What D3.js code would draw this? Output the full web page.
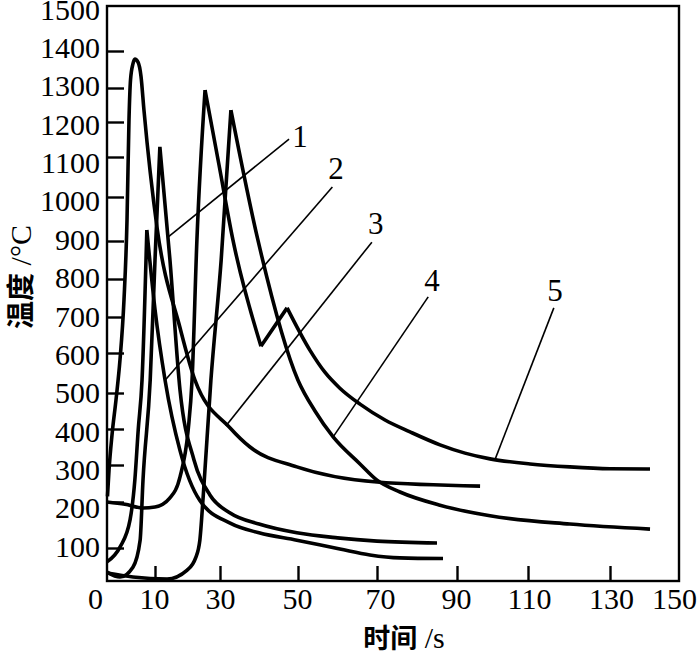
<!DOCTYPE html>
<html><head><meta charset="utf-8">
<script src="https://cdn.jsdelivr.net/npm/d3@7"></script>
<style>body{margin:0;background:#fff}svg{display:block}</style>
</head><body><svg id="chart" width="697" height="656"></svg>
<script>
// ---------- data ----------
const timeTicks = [0, 10, 30, 50, 70, 90, 110, 130, 150];
const tempTicks = [100, 200, 300, 400, 500, 600, 700, 800, 900, 1000, 1100, 1200, 1300, 1400];
const tempLabels = [100, 200, 300, 400, 500, 600, 700, 800, 900, 1000, 1100, 1200, 1300, 1400, 1500];
const curveNames = ["1", "2", "3", "4", "5"];

// [time s, temperature °C]
const curve1 = [[0,27],[2.7,12],[5.4,42],[6.9,117],[7.5,259],[9,532],[10,850],[11.5,1129],[14.6,850],[17.7,507],[22,314],[26.9,219],[32.6,176],[40,152],[49.7,133],[60,122],[70,115],[85,111]];
const curve2 = [[0,58],[2.7,102],[4.8,161],[5.8,259],[6.5,397],[7.3,533],[8.3,925],[10,720],[13.1,532],[17.7,340],[23.8,204],[32.6,154],[40,133],[49.7,117],[60.6,97],[68.2,79],[75.75,70],[86.5,68]];
const curve3 = [[0.1,215],[0.42,286],[1.04,383],[1.875,481],[2.7,582],[3.54,745],[4.17,948],[4.58,1206],[4.9,1322],[5.4,1365],[5.8,1378],[6.46,1370],[7.08,1332],[7.7,1235],[10.6,932],[17.7,670],[22.3,532],[32.6,403],[37.7,350],[49.7,295],[70,254],[96.5,243]];
const curve4 = [[0,24],[5.4,12],[13.7,6],[19.9,33],[22.5,70],[23.8,117],[24.8,211],[27.2,532],[30.3,850],[32.8,1235],[39.7,903],[50,532],[54.3,450],[58.9,378],[65.7,303],[70,259],[75.75,227],[85.75,193],[99.3,170],[120.2,152],[141.6,141]];
const curve5 = [[0,200],[3.75,195],[7.5,187],[10,189],[14.6,211],[17.7,268],[20.2,397],[21.4,532],[22.9,903],[25.4,1294],[29.7,1080],[33.3,903],[40.5,619],[47.2,724],[53.0,608],[56.8,552],[60.6,512],[65.7,469],[72,425],[78.25,392],[85.75,356],[92.25,333],[99.3,317],[110.5,303],[120.2,295],[130,290],[141.6,289]];
// which curves have pointed (not rounded) peaks
const sharpPeaks = [true, true, false, true, true];

// leader lines: point on curve, outer end, label position (data units)
const leaderPoints  = [[14,909],[13.1,532],[31.5,408],[58.9,378],[100.7,315]];
const leaderEnds    = [[47.7,1151],[58.7,1025],[68.7,897],[82.8,753],[116.3,724]];
const labelPoints   = [[50.5,1160],[59.6,1072],[69.7,939],[83.75,795],[116.6,771]];

// ---------- layout ----------
const svg = d3.select("#chart");
const xDomain = [0, 10, 30, 50, 70, 90, 110, 130, 150];
const x = d3.scaleLinear().domain(xDomain).range([107, 155, 220, 298, 377, 457, 528, 610, 679]);
const yDomain = [0,100,200,300,400,500,600,700,800,900,1000,1100,1200,1300,1400,1500];
const y = d3.scaleLinear().domain(yDomain).range([581,548,502,465,429,393,353,317,279,241,197,157,122,88,51,6]);
// label placement scales (labels are evenly spaced in the original drawing)
const xLab = d3.scaleLinear().domain(xDomain).range([95, 154, 220, 297, 380, 456, 529, 611, 674]);
const yLab = d3.scaleLinear().domain([100, 1400]).range([546.5, 48]);

const serif = "'Liberation Serif','Times New Roman',serif";
const cjk = "'Noto Sans CJK SC','Noto Sans CJK JP',sans-serif";

// frame
svg.append("rect").attr("x", x(0)).attr("y", y(1500))
  .attr("width", x(150) - x(0)).attr("height", y(0) - y(1500))
  .attr("fill", "none").attr("stroke", "#000").attr("stroke-width", 2.4);

// ticks (inward)
const yAxis = d3.axisLeft(y).tickValues(tempTicks).tickSize(-17).tickFormat("");
svg.append("g").attr("transform", `translate(${x(0)},0)`).call(yAxis)
  .call(g => g.select(".domain").remove())
  .call(g => g.selectAll("line").attr("stroke", "#000").attr("stroke-width", 2.4));
const xAxis = d3.axisBottom(x).tickValues(timeTicks.filter(d => d > 0 && d < 150)).tickSize(-15).tickFormat("");
svg.append("g").attr("transform", `translate(0,${y(0)})`).call(xAxis)
  .call(g => g.select(".domain").remove())
  .call(g => g.selectAll("line").attr("stroke", "#000").attr("stroke-width", 2.4));

// tick labels
const yLabAxis = d3.axisLeft(yLab).tickValues(tempLabels).tickSize(0).tickPadding(0).tickFormat(d3.format("d"));
svg.append("g").attr("transform", `translate(100,0)`).call(yLabAxis)
  .call(g => g.select(".domain").remove())
  .call(g => g.selectAll("text").attr("font-family", serif).attr("font-size", 30).attr("fill", "#000"));
const xLabAxis = d3.axisBottom(xLab).tickValues(timeTicks).tickSize(0).tickPadding(0).tickFormat(d3.format("d"));
svg.append("g").attr("transform", `translate(0,588)`).call(xLabAxis)
  .call(g => g.select(".domain").remove())
  .call(g => g.selectAll("text").attr("font-family", serif).attr("font-size", 30).attr("fill", "#000").attr("dy", "0.71em"));

// axis titles
const xt = svg.append("text").attr("x", 404).attr("y", 648).attr("text-anchor", "middle").attr("fill", "#000");
xt.append("tspan").attr("font-family", cjk).attr("font-size", 27).attr("font-weight", 700).text("时间");
xt.append("tspan").attr("font-family", serif).attr("font-size", 30).text(" /s");
const yt = svg.append("text").attr("transform", "translate(31,277) rotate(-90)").attr("text-anchor", "middle").attr("fill", "#000");
yt.append("tspan").attr("font-family", cjk).attr("font-size", 28).attr("font-weight", 700).text("温度");
yt.append("tspan").attr("font-family", serif).attr("font-size", 30).text(" /°C");

// curves: split at pointed extrema, each piece drawn with a monotone curve
const line = d3.line().x(d => x(d[0])).y(d => y(d[1])).curve(d3.curveMonotoneX);
function pieces(c, sharp) {
  if (!sharp) return [c];
  const out = []; let start = 0;
  for (let i = 1; i < c.length - 1; i++) {
    const isMax = c[i][1] > c[i-1][1] && c[i][1] > c[i+1][1];
    const isMin = c[i][1] < c[i-1][1] && c[i][1] < c[i+1][1];
    if ((isMax || isMin) && c[i][1] > 500) { out.push(c.slice(start, i + 1)); start = i; }
  }
  out.push(c.slice(start));
  return out;
}
[curve1, curve2, curve3, curve4, curve5].forEach((c, k) => {
  const d = pieces(c, sharpPeaks[k]).map(p => line(p)).join("");
  svg.append("path").attr("d", d).attr("fill", "none").attr("stroke", "#000")
    .attr("stroke-width", 3.6).attr("stroke-linejoin", "miter").attr("stroke-linecap", "butt");
});

// leaders and labels
curveNames.forEach((n, i) => {
  svg.append("line")
    .attr("x1", x(leaderPoints[i][0])).attr("y1", y(leaderPoints[i][1]))
    .attr("x2", x(leaderEnds[i][0])).attr("y2", y(leaderEnds[i][1]))
    .attr("stroke", "#000").attr("stroke-width", 1.6);
  svg.append("text").attr("x", x(labelPoints[i][0])).attr("y", y(labelPoints[i][1]))
    .attr("text-anchor", "middle").attr("dominant-baseline", "central")
    .attr("font-family", serif).attr("font-size", 31).attr("fill", "#000").text(n);
});
</script></body></html>
